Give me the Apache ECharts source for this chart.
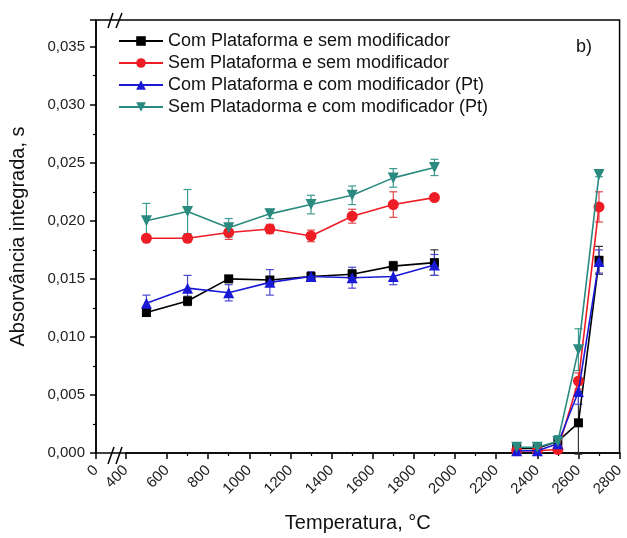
<!DOCTYPE html>
<html><head><meta charset="utf-8">
<script src="https://cdn.jsdelivr.net/npm/echarts@6/dist/echarts.min.js"></script>
<style>html,body{margin:0;padding:0;background:#fff}#c{width:627px;height:538px}</style>
</head><body><div id="c"></div>
<script>
// ---- data ----
var seriesNames = ['Com Plataforma e sem modificador','Sem Plataforma e sem modificador','Com Plataforma e com modificador (Pt)','Sem Platadorma e com modificador (Pt)'];
var tempsLow  = [500, 700, 900, 1100, 1300, 1500, 1700, 1900];
var tempsHigh = [2300, 2400, 2500, 2600, 2700];
var xTickLabels = ['0','400','600','800','1000','1200','1400','1600','1800','2000','2200','2400','2600','2800'];

var comSemLow   = [0.0121, 0.0131, 0.0150, 0.0149, 0.0152, 0.0154, 0.0161, 0.0164];
var comSemLowErr= [0.0003, 0.0004, 0.0002, 0.0003, 0.0004, 0.0004, 0.0004, 0.0011];
var comSemHigh   = [0.0004, 0.0004, 0.0010, 0.0026, 0.0166];
var comSemHighErr= [0.0003, 0.0003, 0.0003, 0.0027, 0.0012];

var semSemLow   = [0.0185, 0.0185, 0.0190, 0.0193, 0.0187, 0.0204, 0.0214, 0.0220];
var semSemLowErr= [0.0002, 0.0003, 0.0006, 0.0004, 0.0005, 0.0006, 0.0011, 0.0002];
var semSemHigh   = [0.0002, 0.0002, 0.0003, 0.0062, 0.0212];
var semSemHighErr= [0.0002, 0.0002, 0.0002, 0.0007, 0.0013];

var comPtLow   = [0.0129, 0.0142, 0.0138, 0.0147, 0.0152, 0.0151, 0.0152, 0.0162];
var comPtLowErr= [0.0007, 0.0011, 0.0007, 0.0011, 0.0004, 0.0009, 0.0007, 0.0009];
var comPtHigh   = [0.0002, 0.0002, 0.0008, 0.0053, 0.0165];
var comPtHighErr= [0.0002, 0.0002, 0.0003, 0.0011, 0.0010];

var semPtLow   = [0.0200, 0.0208, 0.0194, 0.0206, 0.0214, 0.0222, 0.0237, 0.0246];
var semPtLowErr= [0.0015, 0.0019, 0.0008, 0.0004, 0.0008, 0.0008, 0.0008, 0.0007];
var semPtHigh   = [0.0005, 0.0005, 0.0010, 0.0089, 0.0240];
var semPtHighErr= [0.0003, 0.0003, 0.0005, 0.0018, 0.0002];

// ---- styling ----
var colors = ['#000000', '#ee1c24', '#1a1ad6', '#2a8a80'];
var errColors = ['#333333', '#e0474c', '#4a4ad0', '#3c9a90'];
var symbols = ['rect', 'circle', 'triangle', 'path://M0,0 L10,0 L5,9 Z'];
var symbolSizes = [9, 11, 11, 11];
var FONT = 'Liberation Sans, Arial, sans-serif';

var groups = [
  [comSemLow, comSemLowErr, comSemHigh, comSemHighErr],
  [semSemLow, semSemLowErr, semSemHigh, semSemHighErr],
  [comPtLow, comPtLowErr, comPtHigh, comPtHighErr],
  [semPtLow, semPtLowErr, semPtHigh, semPtHighErr]
];

function pairs(xs, ys) { return xs.map(function (x, i) { return [x, ys[i]]; }); }
function triples(xs, ys, es) { return xs.map(function (x, i) { return [x, ys[i], es[i]]; }); }

function errRender(color) {
  return function (params, api) {
    var x = api.value(0), y = api.value(1), e = api.value(2);
    var top = api.coord([x, y + e]);
    var bot = api.coord([x, y - e]);
    var hw = 4;
    var st = { stroke: color, lineWidth: 1.2 };
    return { type: 'group', children: [
      { type: 'line', shape: { x1: top[0], y1: top[1], x2: bot[0], y2: bot[1] }, style: st },
      { type: 'line', shape: { x1: top[0] - hw, y1: top[1], x2: top[0] + hw, y2: top[1] }, style: st },
      { type: 'line', shape: { x1: bot[0] - hw, y1: bot[1], x2: bot[0] + hw, y2: bot[1] }, style: st }
    ]};
  };
}

var series = [];
groups.forEach(function (g, k) {
  [[tempsLow, g[0], g[1]], [tempsHigh, g[2], g[3]]].forEach(function (part, j) {
    series.push({
      name: 'err' + k + '_' + j, type: 'custom', renderItem: errRender(errColors[k]),
      data: triples(part[0], part[1], part[2]), z: 1, silent: true
    });
  });
});
groups.forEach(function (g, k) {
  [[tempsLow, g[0]], [tempsHigh, g[2]]].forEach(function (part) {
    series.push({
      name: seriesNames[k], type: 'line', data: pairs(part[0], part[1]),
      symbol: symbols[k], symbolSize: symbolSizes[k], showAllSymbol: true,
      lineStyle: { color: colors[k], width: 1.6 },
      itemStyle: { color: colors[k] },
      z: 3 + k, animation: false
    });
  });
});

var chart = echarts.init(document.getElementById('c'), null, { renderer: 'canvas' });
chart.setOption({
  animation: false,
  backgroundColor: '#fff',
  textStyle: { fontFamily: FONT },
  grid: { left: 89, right: 5, top: 20, bottom: 83, show: true, borderColor: '#000', borderWidth: 1.5 },
  legend: {
    data: seriesNames, orient: 'vertical', left: 113, top: 27,
    itemWidth: 44, itemHeight: 12, itemGap: 4,
    textStyle: { fontSize: 18, color: '#111', fontFamily: FONT, lineHeight: 17 }
  },
  xAxis: {
    type: 'value', min: 0, max: 2800, interval: 200,
    breaks: [{ start: 0, end: 400, gap: '5.7%' }],
    breakArea: { show: false },
    axisLine: { onZero: false, lineStyle: { color: '#000', width: 1.5 } },
    axisTick: { show: true, inside: false, length: 6, lineStyle: { color: '#000', width: 1.5 } },
    minorTick: { show: true, splitNumber: 2, length: 3, lineStyle: { color: '#000', width: 1.2 } },
    splitLine: { show: false },
    axisLabel: {
      rotate: 45, fontSize: 15, color: '#222', fontFamily: FONT, margin: 15,
      formatter: function (v) { return xTickLabels.indexOf(String(v)) >= 0 ? String(v) : ''; }
    },
    name: 'Temperatura, °C', nameLocation: 'middle', nameGap: 60,
    nameTextStyle: { fontSize: 20, color: '#111', fontFamily: FONT }
  },
  yAxis: {
    type: 'value', min: 0, max: 0.0373, interval: 0.005,
    axisLine: { show: true, lineStyle: { color: '#000', width: 1.5 } },
    axisTick: { show: true, inside: false, length: 6, lineStyle: { color: '#000', width: 1.5 } },
    minorTick: { show: true, splitNumber: 2, length: 3, lineStyle: { color: '#000', width: 1.2 } },
    splitLine: { show: false },
    axisLabel: {
      fontSize: 15, color: '#222', fontFamily: FONT, margin: 11, showMaxLabel: false,
      formatter: function (v) { return v.toFixed(3).replace('.', ','); }
    },
    name: 'Absorvância integrada, s', nameLocation: 'middle', nameGap: 68,
    nameTextStyle: { fontSize: 20, color: '#111', fontFamily: FONT }
  },
  graphic: [
    { type: 'text', left: 576, top: 38, style: { text: 'b)', fontSize: 18, fill: '#111', fontFamily: FONT } },
    { type: 'line', shape: { x1: 108, y1: 464, x2: 114, y2: 447 }, style: { stroke: '#000', lineWidth: 1.5 } },
    { type: 'line', shape: { x1: 116, y1: 464, x2: 122, y2: 447 }, style: { stroke: '#000', lineWidth: 1.5 } },
    { type: 'line', shape: { x1: 108, y1: 28, x2: 113, y2: 13 }, style: { stroke: '#000', lineWidth: 1.5 } },
    { type: 'line', shape: { x1: 116, y1: 28, x2: 122, y2: 13 }, style: { stroke: '#000', lineWidth: 1.5 } }
  ],
  series: series
});
</script></body></html>
